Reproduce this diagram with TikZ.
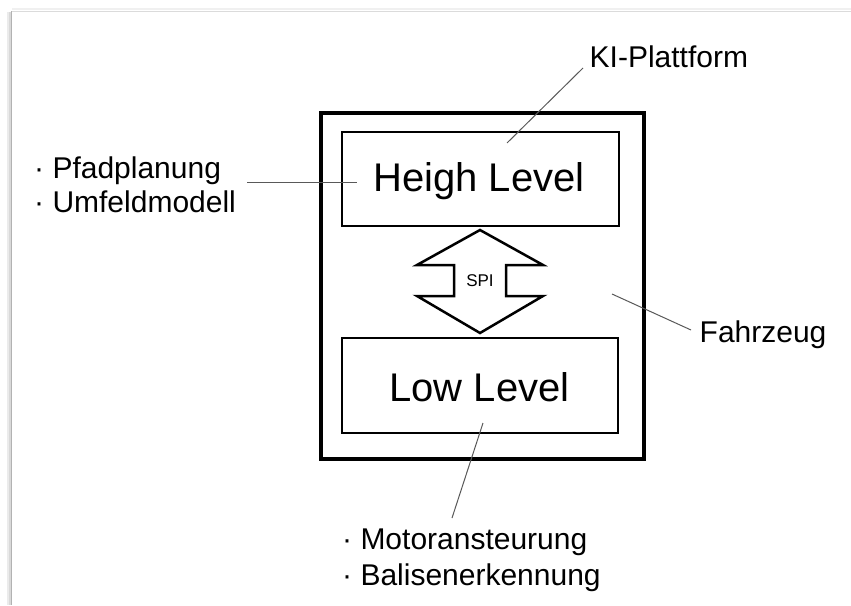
\documentclass[tikz,border=0pt]{standalone}
\usepackage{fontspec}
\setmainfont{Liberation Sans}
\begin{document}
\begin{tikzpicture}[x=1pt,y=-1pt,
  outerbox/.style={draw=black,line width=4pt,minimum width=323pt,minimum height=346pt,inner sep=0pt},
  levelbox/.style={draw=black,line width=2pt,minimum width=277pt,minimum height=94pt,inner sep=0pt},
  bigtext/.style={inner sep=0pt,anchor=base,font=\fontsize{40}{48}\selectfont},
  label/.style={inner sep=0pt,anchor=base west,font=\fontsize{30}{36}\selectfont},
  leader/.style={draw=black!65,line width=1pt},
  spiarrow/.style={draw=black,line width=2.5pt,line join=miter,fill=white}]
\useasboundingbox (0,0) rectangle (851,605);
\fill[white] (0,0) rectangle (851,605);

% page edge with a soft shadow on the left
\draw[black!8,line width=2pt] (8,12) -- (8,605);
\draw[black!15,line width=1.5pt] (10,12) -- (10,605);
\draw[black!30,line width=1.2pt] (11.8,11) -- (11.8,605);
\draw[black!6,line width=1.5pt] (12,9) -- (851,9);
\draw[black!14,line width=1pt] (12,11) -- (851,11);

% vehicle frame with the two control levels
\node[outerbox] (fahrzeugbox) at (482.5,286) {};
\node[levelbox] (high) at (480.5,179) {};
\node[levelbox,minimum width=276pt,minimum height=95pt] (low) at (480,385.5) {};
\node[bigtext] (hightext) at (479,191) {Heigh Level};
\node[bigtext] (lowtext) at (479.5,401) {Low Level};

% SPI double arrow between the levels
\draw[spiarrow] (480,230) -- (543,265) -- (506,265) -- (506,296) -- (543,296)
  -- (480,333) -- (417,296) -- (454,296) -- (454,265) -- (417,265) -- cycle;
\node[inner sep=0pt,anchor=base,font=\fontsize{17}{20}\selectfont] (spi) at (480,286.5) {SPI};

% outside labels
\node[label] (ki) at (589.5,67) {KI-Plattform};
\node[label] (pfad) at (34,178) {· Pfadplanung};
\node[label] (umfeld) at (34,212) {· Umfeldmodell};
\node[label] (fahrzeug) at (699.5,342.5) {Fahrzeug};
\node[label] (motor) at (342,549) {· Motoransteurung};
\node[label] (balise) at (342,585) {· Balisenerkennung};

% leader line end points
\coordinate (kiA) at (583,68);
\coordinate (kiB) at (507,143);
\coordinate (pfadA) at (247,182.5);
\coordinate (pfadB) at (357,182.5);
\coordinate (fzA) at (612,294);
\coordinate (fzB) at (691,330);
\coordinate (lowA) at (483,423);
\coordinate (lowB) at (452,518);

\draw[leader] (kiA) -- (kiB);
\draw[leader] (pfadA) -- (pfadB);
\draw[leader] (fzA) -- (fzB);
\draw[leader] (lowA) -- (lowB);
\end{tikzpicture}
\end{document}
